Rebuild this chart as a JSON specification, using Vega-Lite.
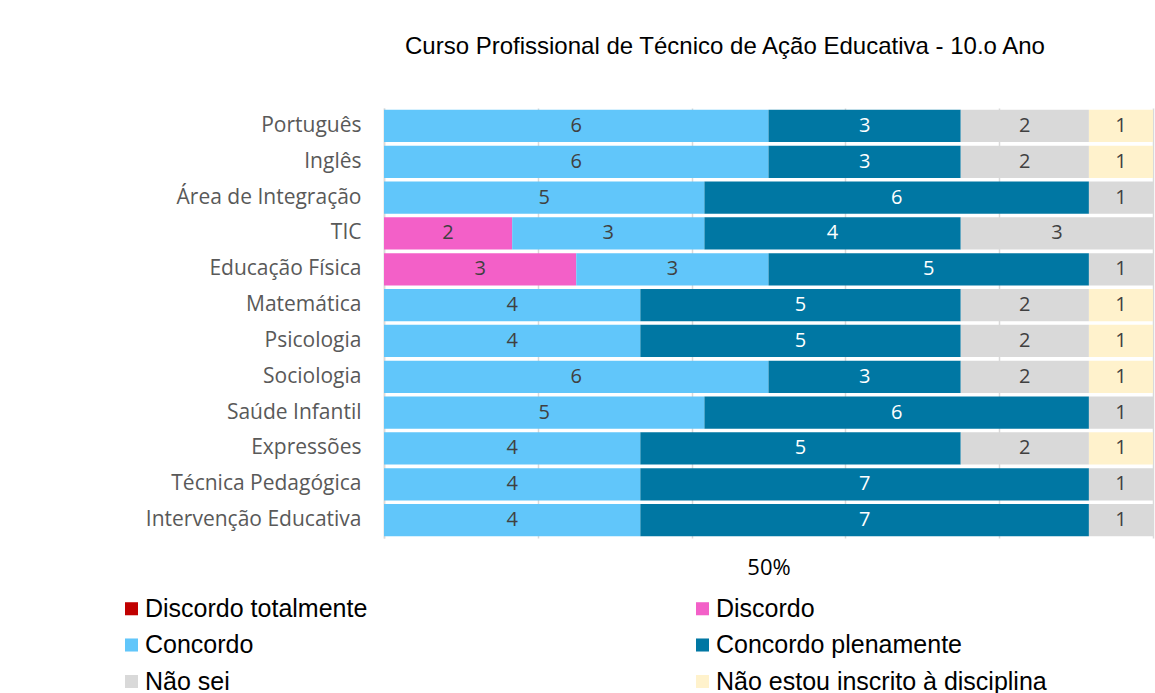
{
  "$schema": "https://vega.github.io/schema/vega-lite/v6.json",
  "autosize": "none",
  "width": 769,
  "height": 430,
  "padding": {"left": 384, "top": 108, "right": 2, "bottom": 155},
  "background": "white",
  "title": {
    "text": "Curso Profissional de Técnico de Ação Educativa - 10.o Ano",
    "font": "Liberation Sans",
    "fontSize": 24,
    "fontWeight": "normal",
    "color": "black",
    "anchor": "start",
    "frame": "group",
    "dx": 21,
    "baseline": "alphabetic",
    "offset": 30
  },
  "data": {
    "values": [
      {"d": "Português", "c": "Concordo", "o": 3, "v": 6},
      {"d": "Português", "c": "Concordo plenamente", "o": 4, "v": 3},
      {"d": "Português", "c": "Não sei", "o": 5, "v": 2},
      {"d": "Português", "c": "Não estou inscrito à disciplina", "o": 6, "v": 1},
      {"d": "Inglês", "c": "Concordo", "o": 3, "v": 6},
      {"d": "Inglês", "c": "Concordo plenamente", "o": 4, "v": 3},
      {"d": "Inglês", "c": "Não sei", "o": 5, "v": 2},
      {"d": "Inglês", "c": "Não estou inscrito à disciplina", "o": 6, "v": 1},
      {"d": "Área de Integração", "c": "Concordo", "o": 3, "v": 5},
      {"d": "Área de Integração", "c": "Concordo plenamente", "o": 4, "v": 6},
      {"d": "Área de Integração", "c": "Não sei", "o": 5, "v": 1},
      {"d": "TIC", "c": "Discordo", "o": 2, "v": 2},
      {"d": "TIC", "c": "Concordo", "o": 3, "v": 3},
      {"d": "TIC", "c": "Concordo plenamente", "o": 4, "v": 4},
      {"d": "TIC", "c": "Não sei", "o": 5, "v": 3},
      {"d": "Educação Física", "c": "Discordo", "o": 2, "v": 3},
      {"d": "Educação Física", "c": "Concordo", "o": 3, "v": 3},
      {"d": "Educação Física", "c": "Concordo plenamente", "o": 4, "v": 5},
      {"d": "Educação Física", "c": "Não sei", "o": 5, "v": 1},
      {"d": "Matemática", "c": "Concordo", "o": 3, "v": 4},
      {"d": "Matemática", "c": "Concordo plenamente", "o": 4, "v": 5},
      {"d": "Matemática", "c": "Não sei", "o": 5, "v": 2},
      {"d": "Matemática", "c": "Não estou inscrito à disciplina", "o": 6, "v": 1},
      {"d": "Psicologia", "c": "Concordo", "o": 3, "v": 4},
      {"d": "Psicologia", "c": "Concordo plenamente", "o": 4, "v": 5},
      {"d": "Psicologia", "c": "Não sei", "o": 5, "v": 2},
      {"d": "Psicologia", "c": "Não estou inscrito à disciplina", "o": 6, "v": 1},
      {"d": "Sociologia", "c": "Concordo", "o": 3, "v": 6},
      {"d": "Sociologia", "c": "Concordo plenamente", "o": 4, "v": 3},
      {"d": "Sociologia", "c": "Não sei", "o": 5, "v": 2},
      {"d": "Sociologia", "c": "Não estou inscrito à disciplina", "o": 6, "v": 1},
      {"d": "Saúde Infantil", "c": "Concordo", "o": 3, "v": 5},
      {"d": "Saúde Infantil", "c": "Concordo plenamente", "o": 4, "v": 6},
      {"d": "Saúde Infantil", "c": "Não sei", "o": 5, "v": 1},
      {"d": "Expressões", "c": "Concordo", "o": 3, "v": 4},
      {"d": "Expressões", "c": "Concordo plenamente", "o": 4, "v": 5},
      {"d": "Expressões", "c": "Não sei", "o": 5, "v": 2},
      {"d": "Expressões", "c": "Não estou inscrito à disciplina", "o": 6, "v": 1},
      {"d": "Técnica Pedagógica", "c": "Concordo", "o": 3, "v": 4},
      {"d": "Técnica Pedagógica", "c": "Concordo plenamente", "o": 4, "v": 7},
      {"d": "Técnica Pedagógica", "c": "Não sei", "o": 5, "v": 1},
      {"d": "Intervenção Educativa", "c": "Concordo", "o": 3, "v": 4},
      {"d": "Intervenção Educativa", "c": "Concordo plenamente", "o": 4, "v": 7},
      {"d": "Intervenção Educativa", "c": "Não sei", "o": 5, "v": 1}
    ]
  },
  "transform": [
    {"stack": "v", "groupby": ["d"], "sort": [{"field": "o", "order": "ascending"}], "offset": "normalize", "as": ["x0", "x1"]},
    {"calculate": "(datum.x0 + datum.x1) / 2", "as": "xm"}
  ],
  "encoding": {
    "y": {
      "field": "d",
      "type": "nominal",
      "sort": null,
      "scale": {"paddingInner": 0.1, "paddingOuter": 0.05},
      "axis": {
        "title": null,
        "labelFont": "Open Sans",
        "labelFontSize": 21,
        "labelColor": "#595959",
        "labelPadding": 23,
        "labelLimit": 300,
        "ticks": false,
        "domain": true,
        "domainColor": "#D9D9D9",
        "domainWidth": 1.5
      }
    }
  },
  "layer": [
    {
      "mark": {"type": "bar"},
      "encoding": {
        "x": {
          "field": "x0",
          "type": "quantitative",
          "scale": {"domain": [0, 1], "nice": false},
          "axis": {
            "title": null,
            "values": [0, 0.2, 0.4, 0.5, 0.6, 0.8, 1],
            "labelExpr": "datum.value == 0.5 ? '50%' : ''",
            "labelFont": "Open Sans",
            "labelFontSize": 22,
            "labelColor": "black",
            "labelPadding": 19,
            "ticks": false,
            "domain": false,
            "grid": true,
            "gridColor": "#D9D9D9",
            "gridWidth": 1.5,
            "gridOpacity": {"condition": {"test": "datum.value == 0.5", "value": 0}, "value": 1}
          }
        },
        "x2": {"field": "x1"},
        "color": {
          "field": "c",
          "type": "nominal",
          "scale": {
            "domain": ["Discordo totalmente", "Discordo", "Concordo", "Concordo plenamente", "Não sei", "Não estou inscrito à disciplina"],
            "range": ["#C00000", "#F360C8", "#61C6FA", "#0077A3", "#D9D9D9", "#FFF2CC"]
          },
          "legend": {
            "title": null,
            "orient": "none",
            "legendX": -265,
            "legendY": 488,
            "columns": 2,
            "direction": "horizontal",
            "symbolType": "square",
            "symbolSize": 170,
            "symbolStrokeWidth": 0,
            "labelFont": "Liberation Sans",
            "labelFontSize": 25,
            "labelColor": "black",
            "labelOffset": 1,
            "labelLimit": 400,
            "rowPadding": 10.5,
            "columnPadding": 322
          }
        }
      }
    },
    {
      "mark": {"type": "text", "font": "Open Sans", "fontSize": 20, "baseline": "middle", "align": "center"},
      "encoding": {
        "x": {"field": "xm", "type": "quantitative"},
        "text": {"field": "v", "type": "quantitative"},
        "color": {
          "condition": {"test": "datum.c == 'Concordo plenamente'", "value": "white"},
          "value": "#404040"
        }
      }
    }
  ],
  "config": {"view": {"stroke": null}}
}
